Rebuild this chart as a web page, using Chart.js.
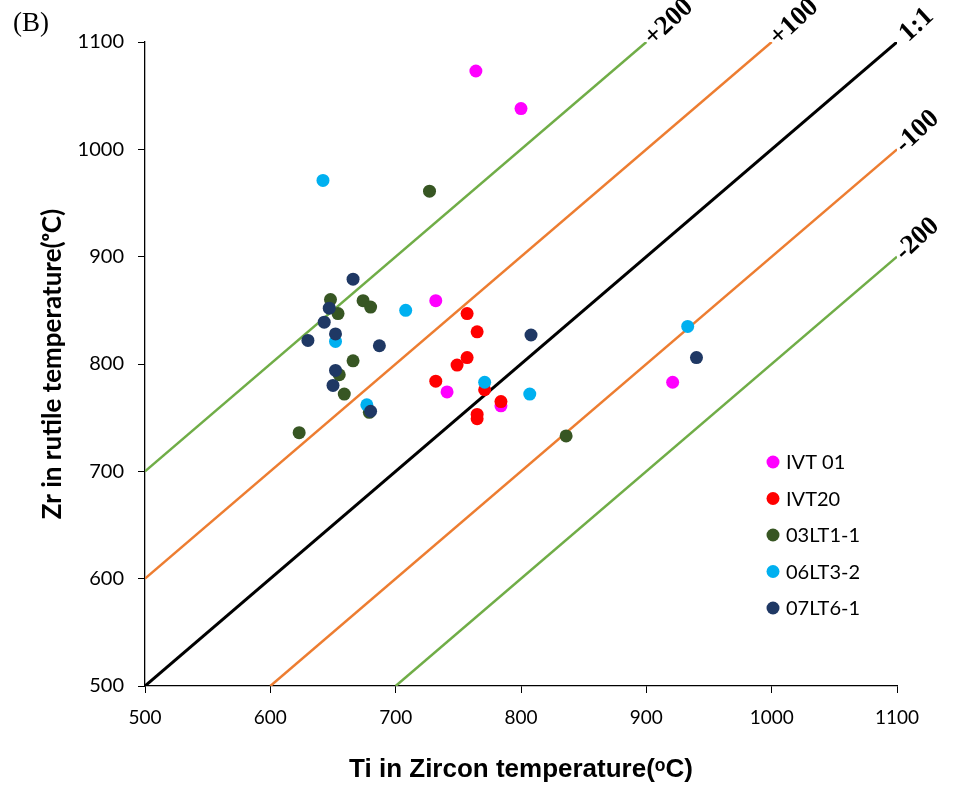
<!DOCTYPE html>
<html>
<head>
<meta charset="utf-8">
<script src="https://cdn.jsdelivr.net/npm/chart.js@4"></script>
<style>
  html, body { margin: 0; padding: 0; background: #fff; }
  #wrap { width: 963px; height: 789px; position: relative; }
</style>
</head>
<body>
<div id="wrap"><canvas id="tempChart" width="963" height="789"></canvas></div>
<script>
// sample series (Ti-in-zircon T vs Zr-in-rutile T, °C)
const seriesNames = ['IVT 01', 'IVT20', '03LT1-1', '06LT3-2', '07LT6-1'];
const seriesColors = ['#FF00FF', '#FF0000', '#375623', '#00B0F0', '#1F3864'];

const ivt01X = [764, 800, 732, 741, 784, 921];
const ivt01Y = [1073, 1038, 859, 774, 761, 783];
const ivt20X = [757, 765, 757, 749, 732, 771, 784, 765, 765];
const ivt20Y = [847, 830, 806, 799, 784, 776, 765, 753, 749];
const lt031X = [727, 648, 674, 680, 654, 666, 655, 659, 679, 623, 836];
const lt031Y = [961, 860, 859, 853, 847, 803, 790, 772, 755, 736, 733];
const lt063X = [642, 708, 652, 771, 807, 677, 933];
const lt063Y = [971, 850, 821, 783, 772, 762, 835];
const lt071X = [666, 647, 643, 808, 630, 652, 687, 652, 650, 680, 940];
const lt071Y = [879, 852, 839, 827, 822, 828, 817, 794, 780, 756, 806];

// reference lines (offset from 1:1)
const refLabels = ['+200', '+100', '1:1', '-100', '-200'];
const refStartX = [500, 500, 500, 600, 700];
const refStartY = [700, 600, 500, 500, 500];
const refEndX = [900, 1000, 1100, 1100, 1100];
const refEndY = [1100, 1100, 1100, 1000, 900];
const refColors = ['#70AD47', '#ED7D31', '#000000', '#ED7D31', '#70AD47'];

const xTicks = [500, 600, 700, 800, 900, 1000, 1100];
const yTicks = [500, 600, 700, 800, 900, 1000, 1100];

const seriesX = [ivt01X, ivt20X, lt031X, lt063X, lt071X];
const seriesY = [ivt01Y, ivt20Y, lt031Y, lt063Y, lt071Y];

const datasets = [];
refLabels.forEach((lab, i) => {
    datasets.push({
        type: 'line',
        label: lab,
        isRef: true,
        data: [{x: refStartX[i], y: refStartY[i]}, {x: refEndX[i], y: refEndY[i]}],
        borderColor: refColors[i],
        borderWidth: i === 2 ? 3 : 2.5,
        pointRadius: 0,
        fill: false,
        order: 10
    });
});
seriesNames.forEach((name, i) => {
    datasets.push({
        type: 'scatter',
        label: name,
        data: seriesX[i].map((x, j) => ({x: x, y: seriesY[i][j]})),
        backgroundColor: seriesColors[i],
        borderColor: seriesColors[i],
        borderWidth: 0,
        pointRadius: 6.5,
        order: 5 - i
    });
});

// labels at the end of the reference lines, the in-plot legend and "(B)"
const annotate = {
    id: 'annotate',
    afterDraw(chart) {
        const ctx = chart.ctx;
        const xs = chart.scales.x, ys = chart.scales.y;
        ctx.save();
        chart.data.datasets.forEach(ds => {
            if (!ds.isRef) return;
            const a = ds.data[0], b = ds.data[1];
            const x0 = xs.getPixelForValue(a.x), y0 = ys.getPixelForValue(a.y);
            const x1 = xs.getPixelForValue(b.x), y1 = ys.getPixelForValue(b.y);
            const ang = Math.atan2(y1 - y0, x1 - x0) - 0.04;
            ctx.save();
            ctx.translate(x1, y1);
            ctx.rotate(ang);
            ctx.font = 'bold 27px "Liberation Serif", serif';
            ctx.fillStyle = '#000';
            ctx.textAlign = 'left';
            ctx.textBaseline = 'middle';
            ctx.fillText(ds.label, ds.label === '1:1' ? 8 : 2, 1);
            ctx.restore();
        });

        // legend
        let ly = 462;
        chart.data.datasets.forEach(ds => {
            if (ds.isRef) return;
            ctx.beginPath();
            ctx.arc(773, ly, 6.5, 0, Math.PI * 2);
            ctx.fillStyle = ds.backgroundColor;
            ctx.fill();
            ctx.fillStyle = '#000';
            ctx.font = '20px Lato, sans-serif';
            ctx.textAlign = 'left';
            ctx.textBaseline = 'middle';
            ctx.fillText(ds.label, 786, ly + 1);
            ly += 36.5;
        });

        ctx.font = '27px "Liberation Serif", serif';
        ctx.fillStyle = '#000';
        ctx.textAlign = 'left';
        ctx.textBaseline = 'middle';
        ctx.fillText('(B)', 13, 24);
        ctx.restore();
    }
};

const ctx = document.getElementById('tempChart').getContext('2d');
new Chart(ctx, {
    data: { datasets: datasets },
    plugins: [annotate],
    options: {
        responsive: false,
        animation: false,
        layout: { padding: { top: 42, right: 66, left: 0, bottom: 0 } },
        plugins: {
            legend: { display: false },
            tooltip: { enabled: false }
        },
        scales: {
            x: {
                type: 'linear',
                min: 500,
                max: 1100,
                afterBuildTicks: s => { s.ticks = xTicks.map(v => ({value: v})); },
                afterFit: s => { s.height = 103; },
                grid: { drawOnChartArea: false, tickLength: 7, color: '#000', tickColor: '#000' },
                border: { color: '#000', width: 1.3 },
                ticks: {
                    color: '#000', font: { size: 19, family: 'Lato, sans-serif' }, padding: 13, maxRotation: 0,
                    callback: v => String(v)
                },
                title: {
                    display: true,
                    text: 'Ti in Zircon temperature(ᵒC)',
                    color: '#000',
                    font: { size: 26, weight: 'bold', family: '"Liberation Sans", Arial, sans-serif' },
                    padding: { top: 12 }
                }
            },
            y: {
                type: 'linear',
                min: 500,
                max: 1100,
                afterBuildTicks: s => { s.ticks = yTicks.map(v => ({value: v})); },
                afterFit: s => { s.width = 145; },
                grid: { drawOnChartArea: false, tickLength: 7, color: '#000', tickColor: '#000' },
                border: { color: '#000', width: 1.3 },
                ticks: {
                    color: '#000', font: { size: 20, family: 'Lato, sans-serif' }, padding: 14,
                    callback: v => String(v)
                },
                title: {
                    display: true,
                    text: 'Zr in rutile temperature(ᵒC)',
                    color: '#000',
                    font: { size: 26, weight: 'bold', family: 'Lato, sans-serif' },
                    padding: { top: 37, bottom: 0 }
                }
            }
        }
    }
});
</script>
</body>
</html>
